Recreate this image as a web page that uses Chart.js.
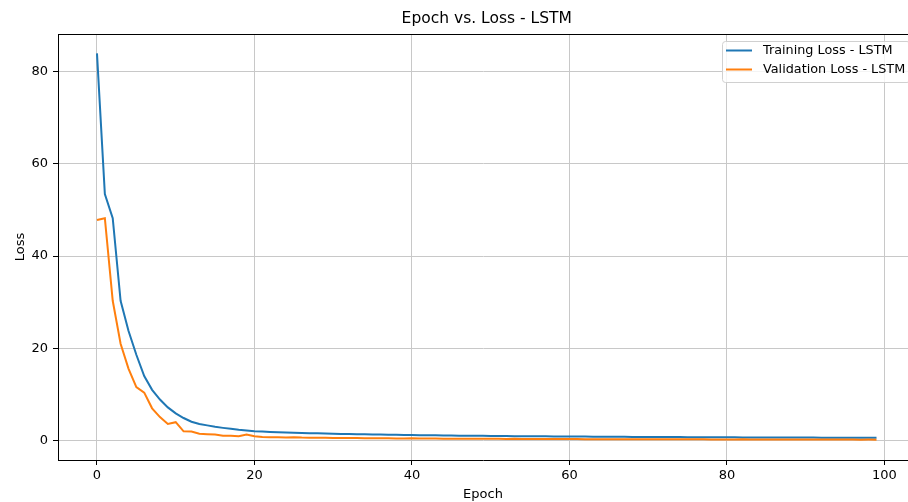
<!DOCTYPE html>
<html>
<head>
<meta charset="utf-8">
<title>Epoch vs. Loss - LSTM</title>
<script src="https://cdn.jsdelivr.net/npm/chart.js@4"></script>
<style>
  html, body { margin: 0; padding: 0; background: #fff; overflow: hidden; }
</style>
</head>
<body>
<canvas id="lossChart" width="908" height="502"></canvas>
<script>
const epochs = Array.from({ length: 100 }, (_, i) => i);

const trainLoss = [
  83.9, 53.4, 48.2, 30.3, 23.8, 18.6, 14.0, 11.0, 8.9, 7.2,
  5.9, 4.9, 4.1, 3.6, 3.3, 3.0, 2.76, 2.55, 2.35, 2.2,
  2.05, 1.95, 1.88, 1.82, 1.76, 1.71, 1.66, 1.62, 1.57, 1.53,
  1.49, 1.46, 1.43, 1.40, 1.37, 1.34, 1.31, 1.28, 1.25, 1.22,
  1.20, 1.18, 1.16, 1.14, 1.12, 1.10, 1.08, 1.06, 1.05, 1.03,
  1.01, 1.00, 0.98, 0.97, 0.96, 0.94, 0.93, 0.92, 0.91, 0.90,
  0.89, 0.88, 0.87, 0.86, 0.85, 0.84, 0.83, 0.82, 0.81, 0.80,
  0.79, 0.78, 0.77, 0.77, 0.76, 0.75, 0.74, 0.74, 0.73, 0.72,
  0.72, 0.71, 0.70, 0.70, 0.69, 0.68, 0.68, 0.67, 0.67, 0.66,
  0.65, 0.65, 0.64, 0.64, 0.63, 0.63, 0.62, 0.62, 0.61, 0.61
];

const valLoss = [
  47.8, 48.2, 30.3, 21.0, 15.6, 11.6, 10.4, 7.0, 5.1, 3.6,
  4.0, 2.0, 1.95, 1.5, 1.4, 1.3, 1.05, 1.05, 0.95, 1.3,
  0.95, 0.8, 0.75, 0.72, 0.70, 0.74, 0.66, 0.63, 0.62, 0.60,
  0.58, 0.57, 0.58, 0.54, 0.53, 0.52, 0.50, 0.51, 0.48, 0.47,
  0.50, 0.45, 0.44, 0.44, 0.42, 0.43, 0.41, 0.40, 0.42, 0.39,
  0.38, 0.38, 0.37, 0.39, 0.36, 0.35, 0.35, 0.36, 0.34, 0.33,
  0.33, 0.34, 0.32, 0.31, 0.31, 0.32, 0.30, 0.30, 0.29, 0.31,
  0.29, 0.28, 0.28, 0.29, 0.27, 0.27, 0.27, 0.28, 0.26, 0.26,
  0.26, 0.25, 0.27, 0.25, 0.25, 0.24, 0.24, 0.25, 0.24, 0.23,
  0.23, 0.24, 0.23, 0.22, 0.22, 0.23, 0.22, 0.21, 0.22, 0.21
];

const xTicks = [0, 20, 40, 60, 80, 100];
const yTicks = [0, 20, 40, 60, 80];
const seriesNames = ["Training Loss - LSTM", "Validation Loss - LSTM"];
const seriesColors = ["#1f77b4", "#ff7f0e"];
const chartTitle = "Epoch vs. Loss - LSTM";

const FONT = "'DejaVu Sans', sans-serif";

// the axes run past the right edge of the figure, so the visible x range stops at ~103
const xMin = -4.95, xMax = 103.0;
const yMin = -4.2, yMax = 88.1;
// full (uncropped) right limit, used to centre the title over the axes
const xFullMax = 103.95;

// title centred over the axes, top spine and the in-axes legend
const frameAndLegend = {
  id: "frameAndLegend",
  afterDraw(chart) {
    const { ctx, chartArea } = chart;
    const xs = chart.scales.x;
    ctx.save();

    const fullRight = xs.getPixelForValue(xFullMax);
    ctx.fillStyle = "#000";
    ctx.font = "15.5px " + FONT;
    ctx.textAlign = "center";
    ctx.textBaseline = "middle";
    ctx.fillText(chartTitle, (chartArea.left + fullRight) / 2, 19);

    ctx.strokeStyle = "#000";
    ctx.lineWidth = 1;
    ctx.beginPath();
    ctx.moveTo(chartArea.left, chartArea.top + 0.5);
    ctx.lineTo(chartArea.right, chartArea.top + 0.5);
    ctx.stroke();

    const boxL = 722, boxT = chartArea.top + 7;
    const boxR = fullRight - 6, boxB = boxT + 41;
    ctx.beginPath();
    ctx.roundRect(boxL + 0.5, boxT + 0.5, boxR - boxL, boxB - boxT, 3);
    ctx.fillStyle = "rgba(255,255,255,0.8)";
    ctx.fill();
    ctx.strokeStyle = "#d0d0d0";
    ctx.stroke();

    ctx.font = "12.8px " + FONT;
    ctx.textBaseline = "middle";
    ctx.textAlign = "left";
    seriesNames.forEach((name, i) => {
      const y = boxT + 9.5 + i * 19;
      ctx.strokeStyle = seriesColors[i];
      ctx.lineWidth = 2;
      ctx.beginPath();
      ctx.moveTo(boxL + 4, y);
      ctx.lineTo(boxL + 30, y);
      ctx.stroke();
      ctx.fillStyle = "#000";
      ctx.fillText(name, boxL + 41, y);
    });
    ctx.restore();
  }
};

const canvas = document.getElementById("lossChart");
new Chart(canvas, {
  type: "line",
  data: {
    datasets: [
      {
        label: seriesNames[0],
        data: epochs.map((e, i) => ({ x: e, y: trainLoss[i] })),
        borderColor: seriesColors[0],
        borderWidth: 2,
        pointRadius: 0,
        tension: 0,
        order: 1,
      },
      {
        label: seriesNames[1],
        data: epochs.map((e, i) => ({ x: e, y: valLoss[i] })),
        borderColor: seriesColors[1],
        borderWidth: 2,
        pointRadius: 0,
        tension: 0,
        order: 0,
      },
    ],
  },
  options: {
    responsive: false,
    animation: false,
    layout: { padding: { left: 0, right: 0, top: 34, bottom: 0 } },
    plugins: {
      legend: { display: false },
      tooltip: { enabled: false },
      title: { display: false },
    },
    scales: {
      x: {
        type: "linear",
        min: xMin,
        max: xMax,
        afterBuildTicks: (scale) => {
          scale.ticks = xTicks.map((v) => ({ value: v }));
        },
        afterFit: (scale) => {
          scale.height = 42;
        },
        grid: { color: "#c8c8c8", lineWidth: 1, tickColor: "#000", tickLength: 5 },
        border: { color: "#000", width: 1 },
        ticks: { color: "#000", font: { family: FONT, size: 13 }, padding: 3, maxRotation: 0 },
        title: {
          display: true,
          text: "Epoch",
          color: "#000",
          font: { family: FONT, size: 13 },
          padding: { top: 0, bottom: 0 },
        },
      },
      y: {
        type: "linear",
        min: yMin,
        max: yMax,
        afterBuildTicks: (scale) => {
          scale.ticks = yTicks.map((v) => ({ value: v }));
        },
        afterFit: (scale) => {
          scale.width = 58;
        },
        grid: { color: "#c8c8c8", lineWidth: 1, tickColor: "#000", tickLength: 5 },
        border: { color: "#000", width: 1 },
        ticks: { color: "#000", font: { family: FONT, size: 13 }, padding: 5 },
        title: {
          display: true,
          text: "Loss",
          color: "#000",
          font: { family: FONT, size: 13 },
          padding: { top: 13, bottom: 0 },
        },
      },
    },
  },
  plugins: [frameAndLegend],
});
</script>
</body>
</html>
